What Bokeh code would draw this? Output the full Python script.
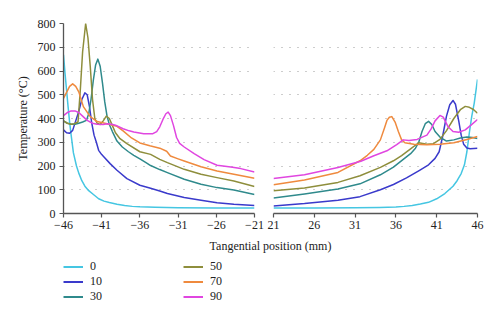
from bokeh.plotting import figure
from bokeh.layouts import row, column
from bokeh.models import (Range1d, FixedTicker, CustomJSTickFormatter, Legend,
                          LegendItem, Label)
from bokeh.embed import file_html
from bokeh.resources import INLINE

# ---------------- data ----------------
labels = ["0", "10", "30", "50", "70", "90"]
x_ticks_left = [-46, -41, -36, -31, -26, -21]
x_ticks_right = [21, 26, 31, 36, 41, 46]
y_ticks = [0, 100, 200, 300, 400, 500, 600, 700, 800]

# left side (negative tangential positions)
left_x_0 = [-46, -45.8, -45.6, -45.4, -45.2, -45.0, -44.7, -44.3, -44.0, -43.6, -43.2, -42.7,
            -42.0, -41.4, -40.7, -40.0, -39.0, -38.0, -37.0, -36.0, -34.0, -31.0, -26.0, -21.0]
left_t_0 = [668, 590, 520, 450, 385, 330, 255, 200, 170, 138, 115, 96,
            78, 62, 52, 46, 39, 34, 30, 28, 26, 24, 23, 23]

left_x_10 = [-46, -45.6, -45.2, -44.8, -44.4, -44.0, -43.6, -43.2, -42.9, -42.6, -42.3, -42.0,
             -41.7, -41.4, -41.0, -40.7, -39.9, -39.0, -37.7, -36.0, -34.6, -33.4, -32.4,
             -30.2, -28.0, -25.9, -23.7, -21.0]
left_t_10 = [352, 340, 338, 350, 390, 430, 480, 508, 500, 450, 380, 330,
             300, 266, 248, 238, 210, 182, 147, 119, 106, 95, 84,
             67, 56, 45, 39, 34]

left_x_30 = [-46, -45.5, -45.0, -44.5, -44.0, -43.5, -43.0, -42.7, -42.4, -42.1, -41.8, -41.5,
             -41.2, -40.9, -40.6, -40.3, -40.0, -39.6, -39.0, -38.3, -37.5, -36.8, -36.0,
             -35.1, -34.6, -33.4, -32.4, -30.2, -28.0, -25.9, -23.7, -21.0]
left_t_30 = [390, 380, 376, 376, 380, 385, 392, 420, 480, 560, 625, 650,
             620, 550, 470, 410, 375, 345, 305, 280, 260, 245, 230,
             212, 202, 185, 172, 144, 123, 109, 99, 80]

left_x_50 = [-46, -45.5, -45.0, -44.6, -44.1, -43.8, -43.5, -43.1, -42.8, -42.5, -42.2, -41.9,
             -41.6, -41.2, -40.8, -40.4, -40.0, -39.6, -39.2, -38.6, -37.7, -36.0, -34.6,
             -33.4, -32.4, -30.2, -28.0, -25.9, -23.7, -21.0]
left_t_50 = [390, 380, 376, 378, 385, 520, 680, 800, 740, 620, 480, 400,
             380, 375, 390, 410, 400, 370, 340, 315, 294, 260, 249,
             228, 214, 186, 165, 151, 137, 114]

left_x_70 = [-46, -45.6, -45.2, -44.8, -44.4, -44.0, -43.4, -42.5, -41.6, -40.3, -39.0, -38.2,
             -37.1, -36.0, -34.7, -33.4, -32.5, -32.0, -31.0, -30.2, -28.0, -25.9, -23.7, -21.0]
left_t_70 = [485, 510, 535, 546, 535, 512, 450, 408, 387, 378, 367, 348,
             318, 297, 285, 275, 262, 242, 230, 221, 197, 179, 165, 148]

left_x_90 = [-46, -45.5, -45.0, -44.5, -44.0, -43.5, -42.9, -42.2, -41.6, -40.8, -40.3, -39.7,
             -39.2, -38.2, -37.4, -36.8, -35.5, -34.3, -33.8, -33.4, -33.0, -32.6, -32.3,
             -32.0, -31.6, -31.2, -30.8, -30.2, -28.9, -27.6, -25.9, -24.1, -22.8, -21.0]
left_t_90 = [412, 425, 432, 432, 425, 410, 392, 380, 376, 375, 378, 376,
             372, 357, 348, 343, 336, 336, 345, 365, 395, 420, 427,
             412, 370, 320, 295, 280, 252, 227, 203, 196, 189, 175]

# right side (positive tangential positions)
right_x_0 = [21, 26, 31, 34, 36, 37, 38, 39, 40, 41, 42, 43, 43.5, 44, 44.4, 44.7, 45.0,
             45.3, 45.6, 46]
right_t_0 = [23, 23, 24, 25, 27, 30, 34, 40, 47, 62, 84, 115, 138, 168, 205, 260, 340,
             410, 465, 565]

right_x_10 = [21, 24.8, 28.9, 31.6, 34.1, 35.7, 37.3, 38.9, 40.0, 40.8, 41.3, 41.7, 42.2,
              42.6, 43.0, 43.3, 43.7, 44.0, 44.3, 44.7, 45.1, 46]
right_t_10 = [32, 42, 56, 71, 100, 122, 150, 182, 205, 232, 260, 320, 410,
              458, 476, 460, 390, 330, 292, 276, 273, 275]

right_x_30 = [21, 24.8, 28.9, 31.6, 34.1, 35.7, 36.9, 37.8, 38.4, 38.8, 39.2, 39.6, 40.0,
              40.4, 40.8, 41.4, 42.2, 43.1, 43.9, 44.7, 45.4, 46]
right_t_30 = [65, 82, 103, 125, 163, 195, 228, 252, 275, 300, 345, 378, 388,
              375, 345, 322, 305, 310, 318, 322, 320, 316]

right_x_50 = [21, 24.8, 28.9, 31.6, 34.1, 35.7, 36.7, 37.8, 38.8, 39.8, 40.6, 41.4, 42.2,
              43.1, 43.9, 44.5, 45.0, 45.5, 46]
right_t_50 = [96, 107, 131, 159, 194, 222, 244, 272, 298, 292, 294, 312, 349,
              400, 437, 451, 447, 438, 422]

right_x_70 = [21, 24.8, 28.9, 31.6, 32.5, 33.3, 34.1, 34.6, 34.9, 35.2, 35.5, 35.9, 36.3,
              36.7, 37.1, 38.2, 39.8, 41.4, 43.1, 44.7, 46]
right_t_70 = [121, 141, 173, 222, 245, 270, 310, 360, 392, 405, 408, 385, 345,
              310, 298, 292, 289, 292, 298, 312, 324]

right_x_90 = [21, 24.8, 28.9, 31.7, 33.3, 34.9, 36.1, 36.9, 37.6, 38.6, 39.8, 40.3, 40.8,
              41.4, 41.8, 42.4, 43.0, 43.7, 44.5, 45.2, 46]
right_t_90 = [147, 163, 194, 220, 243, 264, 290, 310, 307, 312, 330, 355, 390,
              413, 406, 365, 345, 342, 352, 372, 396]

left_x = [left_x_0, left_x_10, left_x_30, left_x_50, left_x_70, left_x_90]
left_t = [left_t_0, left_t_10, left_t_30, left_t_50, left_t_70, left_t_90]
right_x = [right_x_0, right_x_10, right_x_30, right_x_50, right_x_70, right_x_90]
right_t = [right_t_0, right_t_10, right_t_30, right_t_50, right_t_70, right_t_90]

# ---------------- style ----------------
colors = ["#45c6e2", "#3a3acb", "#2f8a8c", "#8e8e3c", "#ef8a3e", "#e046e0"]
FONT = "'Liberation Serif', serif"
FS = "12px"
TXT = "#222222"
AXC = "#555555"

yr = Range1d(0, 800)
minus_fmt = CustomJSTickFormatter(code="return tick < 0 ? '\\u2212' + Math.abs(tick) : String(tick);")


def style_axis(ax):
    ax.axis_line_color = AXC
    ax.axis_line_width = 1.3
    ax.major_tick_line_color = AXC
    ax.major_tick_line_width = 1.2
    ax.major_tick_in = 0
    ax.major_tick_out = 4
    ax.minor_tick_line_color = None
    ax.major_label_text_font = FONT
    ax.major_label_text_font_size = FS
    ax.major_label_text_color = TXT


def make_panel(xr, ticks, width, bl, br, with_y):
    p = figure(width=width, height=237, x_range=xr, y_range=yr,
               toolbar_location=None, output_backend="svg",
               min_border_left=bl, min_border_right=br,
               min_border_top=23, min_border_bottom=24,
               y_axis_location="left" if with_y else None)
    p.outline_line_color = None
    p.background_fill_color = "white"
    p.border_fill_color = "white"
    p.xaxis.ticker = FixedTicker(ticks=ticks, minor_ticks=[])
    p.xaxis.formatter = minus_fmt
    p.xaxis.major_label_standoff = 3
    style_axis(p.xaxis[0])
    p.xgrid.visible = False
    p.ygrid.ticker = FixedTicker(ticks=y_ticks, minor_ticks=[])
    p.ygrid.grid_line_color = "#9a9a9a"
    p.ygrid.grid_line_dash = "1 7"
    p.ygrid.grid_line_width = 1.2
    if with_y:
        p.yaxis.ticker = FixedTicker(ticks=y_ticks, minor_ticks=[])
        p.yaxis.major_label_standoff = 4
        style_axis(p.yaxis[0])
        p.yaxis.axis_label = "Temperature (°C)"
        p.yaxis.axis_label_text_font = FONT
        p.yaxis.axis_label_text_font_size = FS
        p.yaxis.axis_label_text_font_style = "normal"
        p.yaxis.axis_label_text_color = TXT
        p.yaxis.axis_label_standoff = 5
    return p


p1 = make_panel(Range1d(-46, -21), x_ticks_left, 264, 63, 10, True)
p2 = make_panel(Range1d(21, 46), x_ticks_right, 236, 9, 23, False)

for xs, ts, c in zip(left_x, left_t, colors):
    p1.line(xs, ts, line_color=c, line_width=1.5, line_join="round")
for xs, ts, c in zip(right_x, right_t, colors):
    p2.line(xs, ts, line_color=c, line_width=1.5, line_join="round")

# ---------------- bottom: axis title and legend ----------------
p3 = figure(width=500, height=84, x_range=Range1d(0, 1), y_range=Range1d(0, 1),
            toolbar_location=None, output_backend="svg",
            x_axis_location=None, y_axis_location=None, min_border=0)
p3.outline_line_color = None
p3.grid.visible = False
p3.background_fill_color = "white"
p3.border_fill_color = "white"

p3.add_layout(Label(x=270, y=76, x_units="screen", y_units="screen",
                    text="Tangential position (mm)", text_align="center",
                    text_baseline="middle", text_font=FONT, text_font_size=FS,
                    text_color=TXT))

# legend proxies: a single missing (NaN) point each, so only the legend swatch shows
nan = float("nan")
proxies = [p3.line([nan, nan], [nan, nan], line_color=c, line_width=2) for c in colors]


def make_legend(idx, xloc):
    lg = Legend(items=[LegendItem(label=labels[i], renderers=[proxies[i]]) for i in idx],
                location=(xloc, 17), orientation="vertical",
                glyph_width=20, glyph_height=15, label_height=15, label_standoff=7,
                spacing=0, padding=0, margin=0,
                border_line_color=None, background_fill_alpha=0,
                label_text_font=FONT, label_text_font_size=FS,
                label_text_color=TXT)
    p3.add_layout(lg, "center")


make_legend([0, 1, 2], 63)
make_legend([3, 4, 5], 183)

layout = column(row(p1, p2), p3)

open("out.html", "w").write(file_html(layout, INLINE))
